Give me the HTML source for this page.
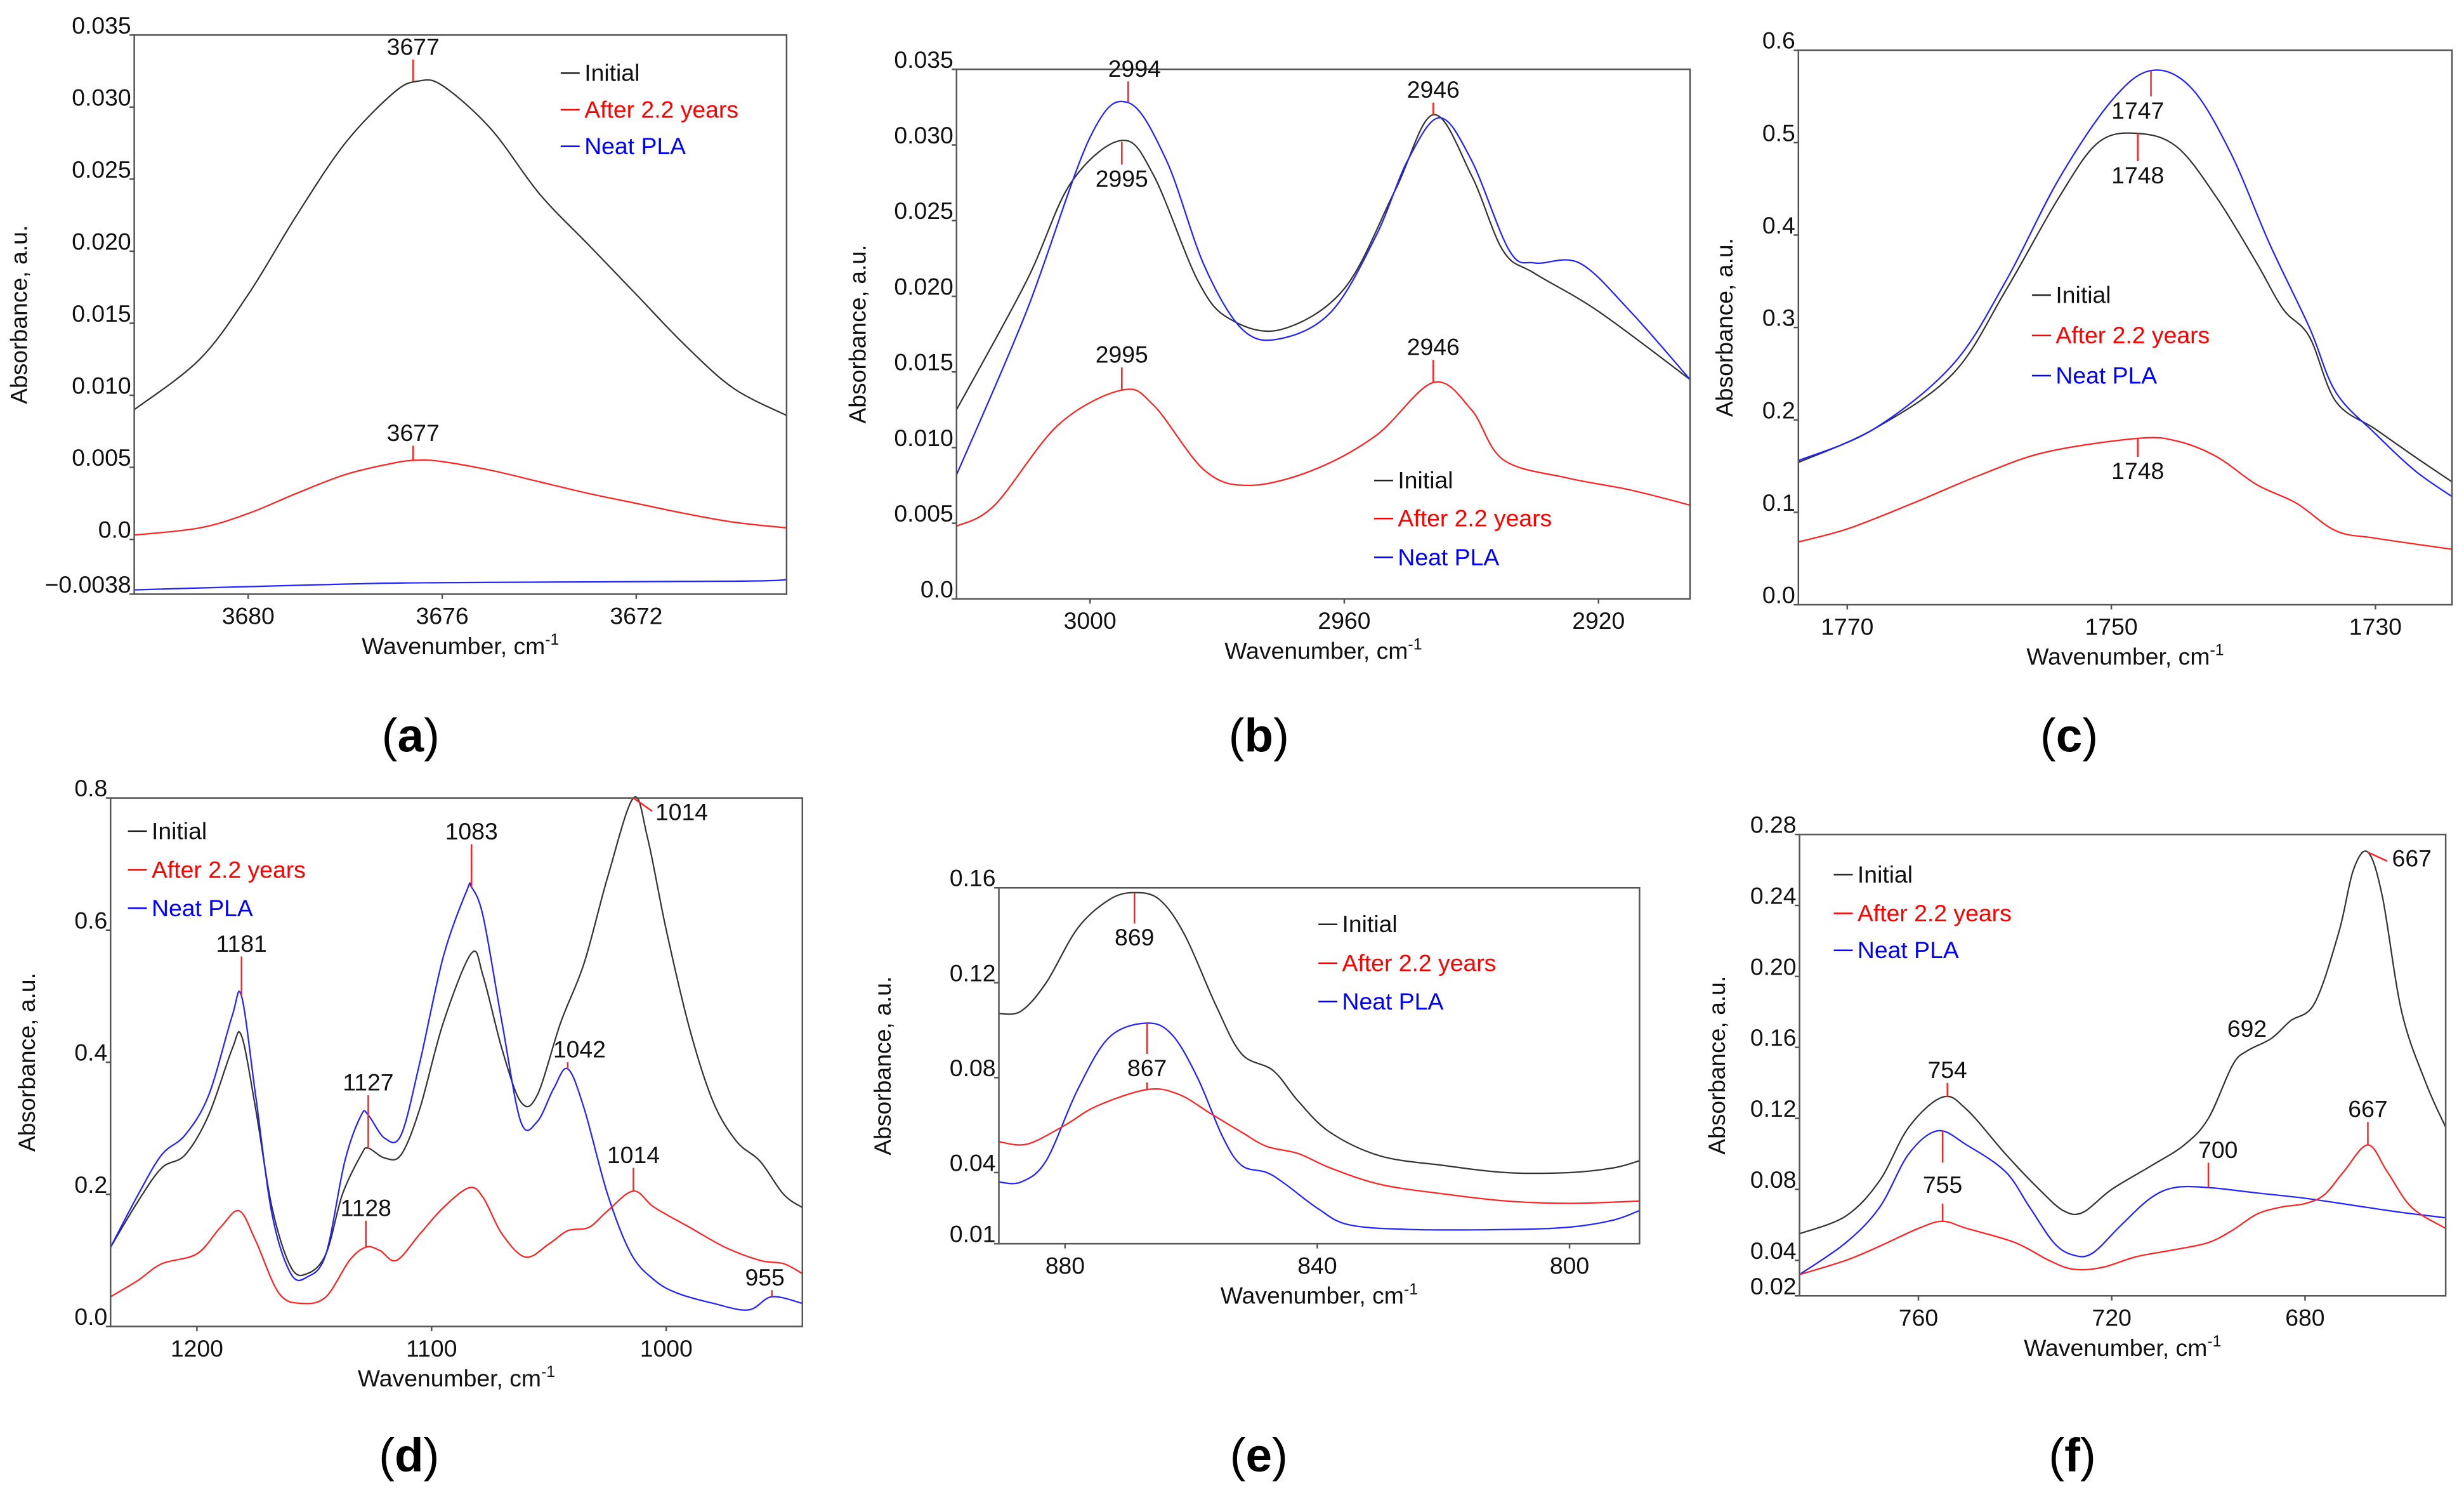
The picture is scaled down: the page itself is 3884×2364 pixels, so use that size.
<!DOCTYPE html>
<html><head><meta charset="utf-8"><style>
html,body{margin:0;padding:0;background:#fff;}
svg{display:block;}
text{font-family:"Liberation Sans",sans-serif;}
</style></head><body>
<svg id="fig" width="3884" height="2364" viewBox="0 0 1560 950" preserveAspectRatio="none" xmlns="http://www.w3.org/2000/svg"></svg>
<script>
// ---------- data (wavenumber, absorbance) ----------
const aInitial=[[3682.35,.009],[3681,.0125],[3680,.017],[3679,.0225],[3678,.0275],[3677,.031],[3676.5,.0318],[3676,.0315],[3675,.0285],[3674,.024],[3673,.0205],[3672,.017],[3671,.0135],[3670,.0105],[3668.9,.0086]];
const aAfter=[[3682.35,.0003],[3681,.0008],[3680,.0018],[3679,.0032],[3678,.0045],[3677,.0053],[3676.5,.0055],[3676,.0054],[3675,.0048],[3674,.004],[3673,.0032],[3672,.0025],[3671,.0018],[3670,.0012],[3668.9,.0008]];
const aNeat=[[3682.35,-.0035],[3678,-.0031],[3676,-.003],[3670,-.0029],[3668.9,-.0028]];
const aYTicks=[0.035,0.030,0.025,0.020,0.015,0.010,0.005,0,-0.0038];
const aYLabels=["0.035","0.030","0.025","0.020","0.015","0.010","0.005","0.0","\u22120.0038"];
const aXTicks=[3680,3676,3672];

const bInitial=[[3021,.0125],[3010,.021],[3003,.0275],[2995,.0303],[2990,.028],[2983,.021],[2978,.0185],[2970,.0178],[2960,.0205],[2952,.027],[2946,.032],[2940,.028],[2935,.023],[2930,.0215],[2920,.019],[2905.6,.0145]];
const bNeat=[[3021,.0082],[3010,.019],[3000,.0305],[2994,.0328],[2988,.029],[2982,.022],[2976,.0178],[2970,.0172],[2962,.019],[2955,.024],[2950,.029],[2945,.0318],[2940,.029],[2934,.023],[2930,.0222],[2923,.0222],[2915,.019],[2905.6,.0145]];
const bAfter=[[3021,.0048],[3015,.0062],[3005,.0115],[2995,.0138],[2990,.0128],[2982,.0085],[2975,.0075],[2965,.0085],[2955,.0108],[2946,.0143],[2940,.0125],[2935,.0092],[2925,.008],[2915,.0072],[2905.6,.0062]];
const bYTicks=[0.035,0.030,0.025,0.020,0.015,0.010,0.005,0];
const bYLabels=["0.035","0.030","0.025","0.020","0.015","0.010","0.005","0.0"];
const bXTicks=[3000,2960,2920];

const cNeat=[[1773.7,.156],[1768,.19],[1762,.26],[1758,.35],[1754,.46],[1750,.545],[1747,.578],[1744,.56],[1741,.49],[1738,.39],[1735,.3],[1733,.23],[1730,.185],[1727,.145],[1724.2,.117]];
const cInitial=[[1773.7,.154],[1768,.19],[1762,.25],[1758,.34],[1754,.44],[1751,.5],[1748,.51],[1745,.495],[1742,.44],[1739,.37],[1737,.32],[1735,.29],[1733,.22],[1730,.19],[1727,.16],[1724.2,.133]];
const cAfter=[[1773.7,.068],[1770,.082],[1765,.11],[1760,.14],[1755,.165],[1748,.18],[1745,.177],[1742,.16],[1739,.13],[1736,.11],[1733,.08],[1730,.072],[1724.2,.06]];
const cYTicks=[0.6,0.5,0.4,0.3,0.2,0.1,0];
const cYLabels=["0.6","0.5","0.4","0.3","0.2","0.1","0.0"];
const cXTicks=[1770,1750,1730];

const dInitial=[[1236.8,.12],[1225,.19],[1215,.24],[1205,.26],[1195,.32],[1185,.42],[1181,.44],[1175,.33],[1168,.18],[1160,.09],[1153,.08],[1145,.11],[1138,.2],[1130,.26],[1127,.27],[1120,.255],[1113,.26],[1105,.33],[1095,.46],[1083,.565],[1078,.53],[1070,.42],[1062,.34],[1055,.35],[1045,.46],[1035,.55],[1025,.68],[1014,.8],[1008,.74],[1000,.6],[990,.45],[980,.34],[970,.28],[960,.25],[950,.2],[942,.18]];
const dNeat=[[1236.8,.12],[1225,.2],[1215,.26],[1205,.29],[1195,.35],[1185,.47],[1181,.5],[1175,.35],[1168,.17],[1160,.08],[1153,.075],[1145,.11],[1137,.25],[1130,.32],[1127,.32],[1120,.285],[1113,.29],[1105,.4],[1095,.56],[1085,.66],[1083,.665],[1078,.62],[1070,.46],[1062,.31],[1055,.31],[1048,.36],[1042,.39],[1035,.33],[1025,.2],[1015,.11],[1005,.07],[995,.05],[980,.035],[965,.025],[955,.045],[942,.035]];
const dAfter=[[1236.8,.045],[1225,.07],[1215,.095],[1200,.11],[1190,.15],[1182,.175],[1175,.13],[1165,.05],[1155,.035],[1145,.045],[1135,.1],[1128,.12],[1122,.115],[1115,.1],[1105,.14],[1095,.18],[1084,.21],[1078,.195],[1070,.14],[1060,.105],[1050,.125],[1042,.145],[1033,.15],[1025,.175],[1014,.205],[1005,.18],[990,.15],[975,.12],[960,.1],[950,.095],[942,.08]];
const dYTicks=[0.8,0.6,0.4,0.2,0];
const dYLabels=["0.8","0.6","0.4","0.2","0.0"];
const dXTicks=[1200,1100,1000];

const eInitial=[[890.5,.107],[887,.108],[883,.12],[878,.143],[873,.155],[869,.158],[865,.155],[861,.14],[856,.11],[852,.09],[847,.083],[843,.07],[838,.057],[830,.047],[820,.043],[810,.04],[800,.04],[793,.042],[788.9,.045]];
const eNeat=[[890.5,.036],[887,.036],[883,.045],[878,.075],[873,.097],[867,.103],[863,.098],[859,.08],[855,.055],[852,.043],[848,.04],[845,.035],[840,.025],[835,.018],[825,.016],[810,.016],[800,.017],[793,.02],[788.9,.024]];
const eAfter=[[890.5,.053],[886,.052],[880,.06],[875,.068],[867,.075],[862,.073],[857,.065],[852,.057],[848,.051],[843,.048],[838,.042],[830,.035],[820,.031],[810,.028],[800,.027],[788.9,.028]];
const eYTicks=[0.16,0.12,0.08,0.04,0.01];
const eYLabels=["0.16","0.12","0.08","0.04","0.01"];
const eXTicks=[880,840,800];

const fInitial=[[784.6,.055],[775,.065],[768,.085],[762,.115],[755,.132],[750,.125],[742,.1],[735,.08],[730,.068],[726,.067],[720,.08],[712,.093],[705,.105],[700,.12],[695,.15],[692,.158],[687,.165],[683,.175],[678,.185],[673,.225],[670,.26],[667,.27],[664,.245],[660,.18],[655,.14],[650.9,.115]];
const fAfter=[[784.6,.032],[775,.04],[768,.048],[760,.058],[755,.062],[750,.058],[740,.05],[733,.04],[728,.035],[722,.036],[715,.042],[707,.046],[700,.05],[695,.057],[690,.066],[685,.07],[680,.072],[676,.077],[672,.09],[667,.105],[663,.09],[658,.07],[650.9,.058]];
const fNeat=[[784.6,.032],[775,.05],[768,.07],[762,.1],[756,.113],[750,.105],[742,.09],[737,.07],[732,.05],[728,.043],[724,.044],[718,.06],[712,.075],[707,.081],[700,.081],[690,.078],[680,.075],[670,.071],[660,.067],[650.9,.064]];
const fYTicks=[0.28,0.24,0.20,0.16,0.12,0.08,0.04,0.02];
const fYLabels=["0.28","0.24","0.20","0.16","0.12","0.08","0.04","0.02"];
const fXTicks=[760,720,680];

// annotations: [text, wn, valueStart, valueEnd, labelWn]
const aAnn=[["3677",3676.6,.0318,.0333,3676.6],["3677",3676.6,.0055,.0065,3676.6]];
const bAnn=[["2994",2994,.0328,.0342,2993],["2995",2995,.0302,.0287,2995],["2946",2946,.032,.0328,2946],["2995",2995,.0138,.0153,2995],["2946",2946,.0143,.0158,2946]];
const cAnn=[["1747",1747,.578,.55,1748],["1748",1748,.51,.48,1748],["1748",1748,.18,.16,1748]];
const dAnn=[["1181",1181,.5,.56,1181],["1127",1127,.27,.35,1127],["1083",1083,.665,.73,1083],["1042",1042,.39,.4,1037],["1014",1014,.205,.24,1014],["1128",1128,.12,.16,1128],["955",955,.045,.055,958]];
const eAnn=[["869",869,.158,.145,869],["867",867,.103,.09,867],["",867,.075,.078,867]];
const fAnn=[["754",754,.132,.14,754],["",755,.113,.095,755],["700",700,.081,.095,698],["667",667,.105,.118,667]];

const NS="http://www.w3.org/2000/svg";
const svg=document.getElementById('fig');
function el(tag,attrs,parent){const e=document.createElementNS(NS,tag);for(const k in attrs)e.setAttribute(k,attrs[k]);(parent||svg).appendChild(e);return e;}
function smooth(pts){let d="M"+pts[0][0].toFixed(2)+","+pts[0][1].toFixed(2);
 for(let i=0;i<pts.length-1;i++){const p0=pts[Math.max(0,i-1)],p1=pts[i],p2=pts[i+1],p3=pts[Math.min(pts.length-1,i+2)];
  const c1=[p1[0]+(p2[0]-p0[0])/6,p1[1]+(p2[1]-p0[1])/6],c2=[p2[0]-(p3[0]-p1[0])/6,p2[1]-(p3[1]-p1[1])/6];
  d+=" C"+c1.map(v=>v.toFixed(2)).join(",")+" "+c2.map(v=>v.toFixed(2)).join(",")+" "+p2[0].toFixed(2)+","+p2[1].toFixed(2);}
 return d;}

function panel(id,box,xr,yr,yTicks,yLabels,xTicks,series,ann,legend,letterPos,ylabelX){
 const g=el('g',{});
 
 
 const X=w=>box.l+(xr[0]-w)/(xr[0]-xr[1])*(box.r-box.l);
 const Y=v=>box.b-(v-yr[0])/(yr[1]-yr[0])*(box.b-box.t);
 series.forEach(s=>{const p=el('path',{d:smooth(s.data.map(q=>[X(q[0]),Y(q[1])])),fill:'none',stroke:s.color,'stroke-width':0.9},g);
  
  });
 const fr=el('rect',{x:box.l,y:box.t,width:box.r-box.l,height:box.b-box.t,fill:'none',stroke:'#555','stroke-width':1},g);
 
 
 yTicks.forEach((v,i)=>{const y=Y(v);el('line',{x1:box.l-3,x2:box.l,y1:y,y2:y,stroke:'#555','stroke-width':1},g);
  const t=el('text',{x:box.l-2,y:y-1,'text-anchor':'end','font-size':15,fill:'#111'},g);t.textContent=yLabels[i];
  
  });
 xTicks.forEach(w=>{const x=X(w);el('line',{x1:x,x2:x,y1:box.b,y2:box.b+3,stroke:'#555','stroke-width':1},g);
  const t=el('text',{x:x,y:box.b+19,'text-anchor':'middle','font-size':15,fill:'#111'},g);t.textContent=w;
  
  });
 const xt=el('text',{x:(box.l+box.r)/2,y:box.b+38,'text-anchor':'middle','font-size':15,fill:'#111'},g);
 xt.innerHTML='Wavenumber, cm<tspan dy="-6" font-size="10">-1</tspan>';
 
 
 const cy=(box.t+box.b)/2;
 const yt=el('text',{x:ylabelX,y:cy,'text-anchor':'middle','font-size':15,fill:'#111',transform:`rotate(-90 ${ylabelX} ${cy})`},g);
 yt.textContent='Absorbance, a.u.';
 
 
 ann.forEach(a=>{const x=X(a[1]),y1=Y(a[2]),y2=Y(a[3]);
  el('line',{x1:x,x2:x,y1:y1,y2:y2,stroke:'#f22','stroke-width':1},g);
  if(a[0]){const up=y2<y1;const t=el('text',{x:X(a[4]),y:up?y2-3:y2+14,'text-anchor':'middle','font-size':15,fill:'#111'},g);t.textContent=a[0];
   
   }});
 const names=['Initial','After 2.2 years','Neat PLA'],cols=['#222','#f00','#00f'];
 legend.ys.forEach((y,i)=>{el('line',{x1:legend.x,x2:legend.x+12,y1:y,y2:y,stroke:cols[i],'stroke-width':1},g);
  const t=el('text',{x:legend.x+15,y:y+5,'font-size':15,fill:cols[i]==='#222'?'#111':cols[i]},g);t.textContent=names[i];
  
  });
 const lt=el('text',{x:letterPos[0],y:letterPos[1],'text-anchor':'middle','font-size':30,fill:'#000','font-family':'Liberation Serif, serif'},g);
 lt.innerHTML='(<tspan font-weight="bold">'+id+'</tspan>)';
 
 
 return {X,Y,g};
}

panel('a',{l:85,r:498,t:22.2,b:376.3},[3682.35,3668.9],[-0.0038,0.035],aYTicks,aYLabels,aXTicks,
 [{name:'initial',data:aInitial,color:'#333'},{name:'after',data:aAfter,color:'#f22'},{name:'neat',data:aNeat,color:'#22f'}],
 aAnn,{x:355,ys:[46.3,69.5,92.7]},[260,476],17);
panel('b',{l:605.6,r:1070,t:43.9,b:379.3},[3021,2905.6],[0,0.035],bYTicks,bYLabels,bXTicks,
 [{name:'initial',data:bInitial,color:'#333'},{name:'neat',data:bNeat,color:'#22f'},{name:'after',data:bAfter,color:'#f22'}],
 bAnn,{x:870,ys:[304.3,328.4,353]},[797,476],548);
panel('c',{l:1138.6,r:1552.4,t:31.8,b:383},[1773.7,1724.2],[0,0.6],cYTicks,cYLabels,cXTicks,
 [{name:'initial',data:cInitial,color:'#333'},{name:'neat',data:cNeat,color:'#22f'},{name:'after',data:cAfter,color:'#f22'}],
 cAnn,{x:1286.5,ys:[186.9,212.5,237.9]},[1310,476],1097);
const pd=panel('d',{l:70,r:508,t:505.4,b:840.1},[1236.8,942],[0,0.8],dYTicks,dYLabels,dXTicks,
 [{name:'initial',data:dInitial,color:'#333'},{name:'neat',data:dNeat,color:'#22f'},{name:'after',data:dAfter,color:'#f22'}],
 dAnn,{x:81,ys:[526.4,550.9,575.2]},[259,932],22);
el('line',{x1:pd.X(1014),y1:pd.Y(.8),x2:pd.X(1006),y2:pd.Y(.78),stroke:'#f22','stroke-width':1},pd.g);
{const t=el('text',{x:pd.X(1006)+2,y:pd.Y(.8)+14,'font-size':15,fill:'#111'},pd.g);t.textContent='1014';
 
 }
panel('e',{l:632.4,r:1038,t:562.3,b:787.7},[890.5,788.9],[0.01,0.16],eYTicks,eYLabels,eXTicks,
 [{name:'initial',data:eInitial,color:'#333'},{name:'neat',data:eNeat,color:'#22f'},{name:'after',data:eAfter,color:'#f22'}],
 eAnn,{x:834.7,ys:[585.4,610,634.3]},[797,932],564);
const pf=panel('f',{l:1139.3,r:1548.4,t:528.5,b:820.7},[784.6,650.9],[0.02,0.28],fYTicks,fYLabels,fXTicks,
 [{name:'initial',data:fInitial,color:'#333'},{name:'neat',data:fNeat,color:'#22f'},{name:'after',data:fAfter,color:'#f22'}],
 fAnn,{x:1161,ys:[553.9,578.5,601.9]},[1312,932],1092);
el('line',{x1:pf.X(755),y1:pf.Y(.062),x2:pf.X(755),y2:pf.Y(.072),stroke:'#f22','stroke-width':1},pf.g);
{const t=el('text',{x:pf.X(755),y:pf.Y(.078),'text-anchor':'middle','font-size':15,fill:'#111'},pf.g);t.textContent='755';
 
 }
{const t=el('text',{x:pf.X(692),y:pf.Y(.166),'text-anchor':'middle','font-size':15,fill:'#111'},pf.g);t.textContent='692';
 
 }
el('line',{x1:pf.X(667),y1:pf.Y(.27),x2:pf.X(663),y2:pf.Y(.265),stroke:'#f22','stroke-width':1},pf.g);
{const t=el('text',{x:pf.X(662),y:pf.Y(.262),'font-size':15,fill:'#111'},pf.g);t.textContent='667';
 
 }
</script>
</body></html>
